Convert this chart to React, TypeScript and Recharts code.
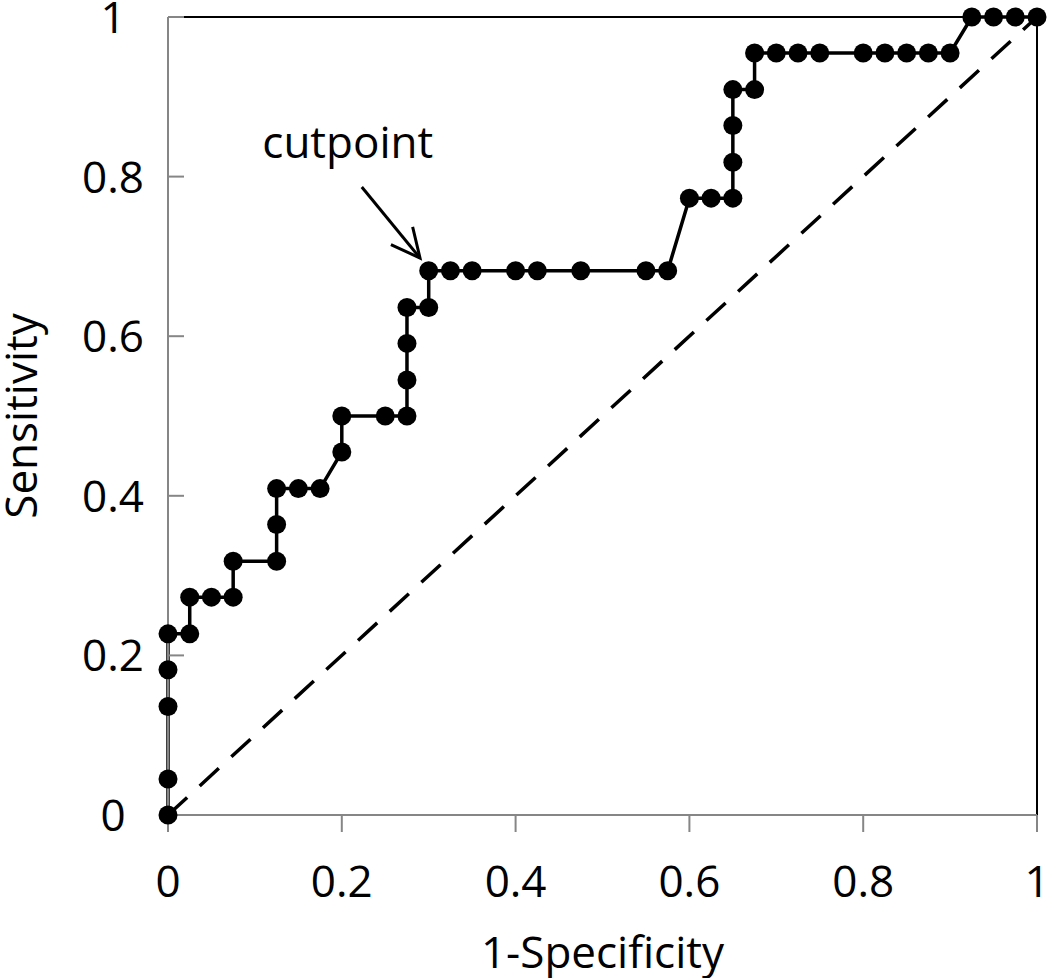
import React from 'react'
import {
  LineChart, Line, XAxis, YAxis, ReferenceLine
} from 'recharts'

// 1-Specificity (false positive rate) of each cutoff
const fpr = [
  0, 0, 0, 0, 0, 0.025, 0.025, 0.05, 0.075, 0.075,
  0.125, 0.125, 0.125, 0.15, 0.175, 0.2, 0.2, 0.25, 0.275, 0.275,
  0.275, 0.275, 0.3, 0.3, 0.325, 0.35, 0.4, 0.425, 0.475, 0.55,
  0.575, 0.6, 0.625, 0.65, 0.65, 0.65, 0.65, 0.675, 0.675, 0.7,
  0.725, 0.75, 0.8, 0.825, 0.85, 0.875, 0.9, 0.925, 0.95, 0.975, 1,
]

// Sensitivity of each cutoff
const tpr = [
  0, 0.045, 0.136, 0.182, 0.227, 0.227, 0.273, 0.273, 0.273, 0.318,
  0.318, 0.364, 0.409, 0.409, 0.409, 0.455, 0.5, 0.5, 0.5, 0.545,
  0.591, 0.636, 0.636, 0.682, 0.682, 0.682, 0.682, 0.682, 0.682, 0.682,
  0.682, 0.773, 0.773, 0.773, 0.818, 0.864, 0.909, 0.909, 0.955, 0.955,
  0.955, 0.955, 0.955, 0.955, 0.955, 0.955, 0.955, 1, 1, 1, 1,
]

const ticks = [0, 0.2, 0.4, 0.6, 0.8, 1]

// chance line and the "cutpoint" arrow, in data units
const chanceLine = [{ x: 0, y: 0 }, { x: 1, y: 1 }]
const arrowFrom = { x: 0.223, y: 0.787 }
const arrowTo = { x: 0.29, y: 0.698 }
const arrowText = 'cutpoint'

const data = fpr.map((x, i) => ({ fpr: x, tpr: tpr[i] }))

const FONT = '"Open Sans", "Noto Sans", sans-serif'
const AXIS_GREY = '#868686'

function fmt(v: number) {
  return String(Number(v.toFixed(1)))
}

function YTick(props: any) {
  const { x, y, payload } = props
  return (
    <text x={x - 35} y={y} dy={16} textAnchor="middle" fontSize={44} fontFamily={FONT} fill="#000">
      {fmt(payload.value)}
    </text>
  )
}

function XTick(props: any) {
  const { x, y, payload } = props
  return (
    <text x={x} y={y} dy={57} textAnchor="middle" fontSize={44} fontFamily={FONT} fill="#000">
      {fmt(payload.value)}
    </text>
  )
}

function ArrowShape(props: any) {
  const { x1, y1, x2, y2 } = props
  if (x1 == null || x2 == null) return null
  const ang = Math.atan2(y2 - y1, x2 - x1)
  const len = 32
  const spread = (26 * Math.PI) / 180
  const b1x = x2 - len * Math.cos(ang - spread)
  const b1y = y2 - len * Math.sin(ang - spread)
  const b2x = x2 - len * Math.cos(ang + spread)
  const b2y = y2 - len * Math.sin(ang + spread)
  return (
    <g>
      <line x1={x1} y1={y1} x2={x2} y2={y2} stroke="#000" strokeWidth={3} />
      <polyline points={`${b1x},${b1y} ${x2},${y2} ${b2x},${b2y}`} fill="none" stroke="#000" strokeWidth={3} />
      <text x={x1 - 14} y={y1 - 29} textAnchor="middle" fontSize={44} fontFamily={FONT} fill="#000">
        {arrowText}
      </text>
    </g>
  )
}

export default function App() {
  return (
    <div style={{ position: 'absolute', left: 0, top: 0, width: 1050, height: 978, background: '#fff' }}>
      <LineChart width={1050} height={978} data={data} margin={{ top: 17, right: 13, bottom: 63, left: 0 }}>
        <XAxis
          type="number"
          dataKey="fpr"
          domain={[0, 1]}
          ticks={ticks}
          height={100}
          axisLine={{ stroke: AXIS_GREY, strokeWidth: 2 }}
          tickLine={{ stroke: AXIS_GREY, strokeWidth: 2 }}
          tickSize={17}
          tickMargin={8}
          tick={<XTick />}
          interval={0}
          label={{
            content: (p: any) => (
              <text x={p.viewBox.x + p.viewBox.width / 2} y={p.viewBox.y + 153} textAnchor="middle" fontSize={44} fontFamily={FONT} fill="#000">
                1-Specificity
              </text>
            ),
          }}
        />
        <YAxis
          type="number"
          dataKey="tpr"
          domain={[0, 1]}
          ticks={ticks}
          width={168}
          axisLine={{ stroke: AXIS_GREY, strokeWidth: 2 }}
          tickLine={{ stroke: AXIS_GREY, strokeWidth: 2 }}
          tickSize={-16}
          tickMargin={36}
          tick={<YTick />}
          interval={0}
          label={{
            content: (p: any) => {
              const cx = 37
              const cy = p.viewBox.y + p.viewBox.height / 2
              return (
                <text x={cx} y={cy} transform={`rotate(-90, ${cx}, ${cy})`} textAnchor="middle" fontSize={44} fontFamily={FONT} fill="#000">
                  Sensitivity
                </text>
              )
            },
          }}
        />
        <ReferenceLine y={1} stroke="#000" strokeWidth={2} />
        <ReferenceLine x={1} stroke="#000" strokeWidth={2} />
        <ReferenceLine segment={chanceLine} stroke="#000" strokeWidth={3.5} strokeDasharray="26 17" />
        <ReferenceLine segment={[arrowFrom, arrowTo]} shape={<ArrowShape />} />
        <Line
          type="linear"
          dataKey="tpr"
          stroke="#000"
          strokeWidth={3.5}
          dot={{ r: 9.5, fill: '#000', stroke: 'none' }}
          activeDot={false}
          isAnimationActive={false}
        />
      </LineChart>
    </div>
  )
}
